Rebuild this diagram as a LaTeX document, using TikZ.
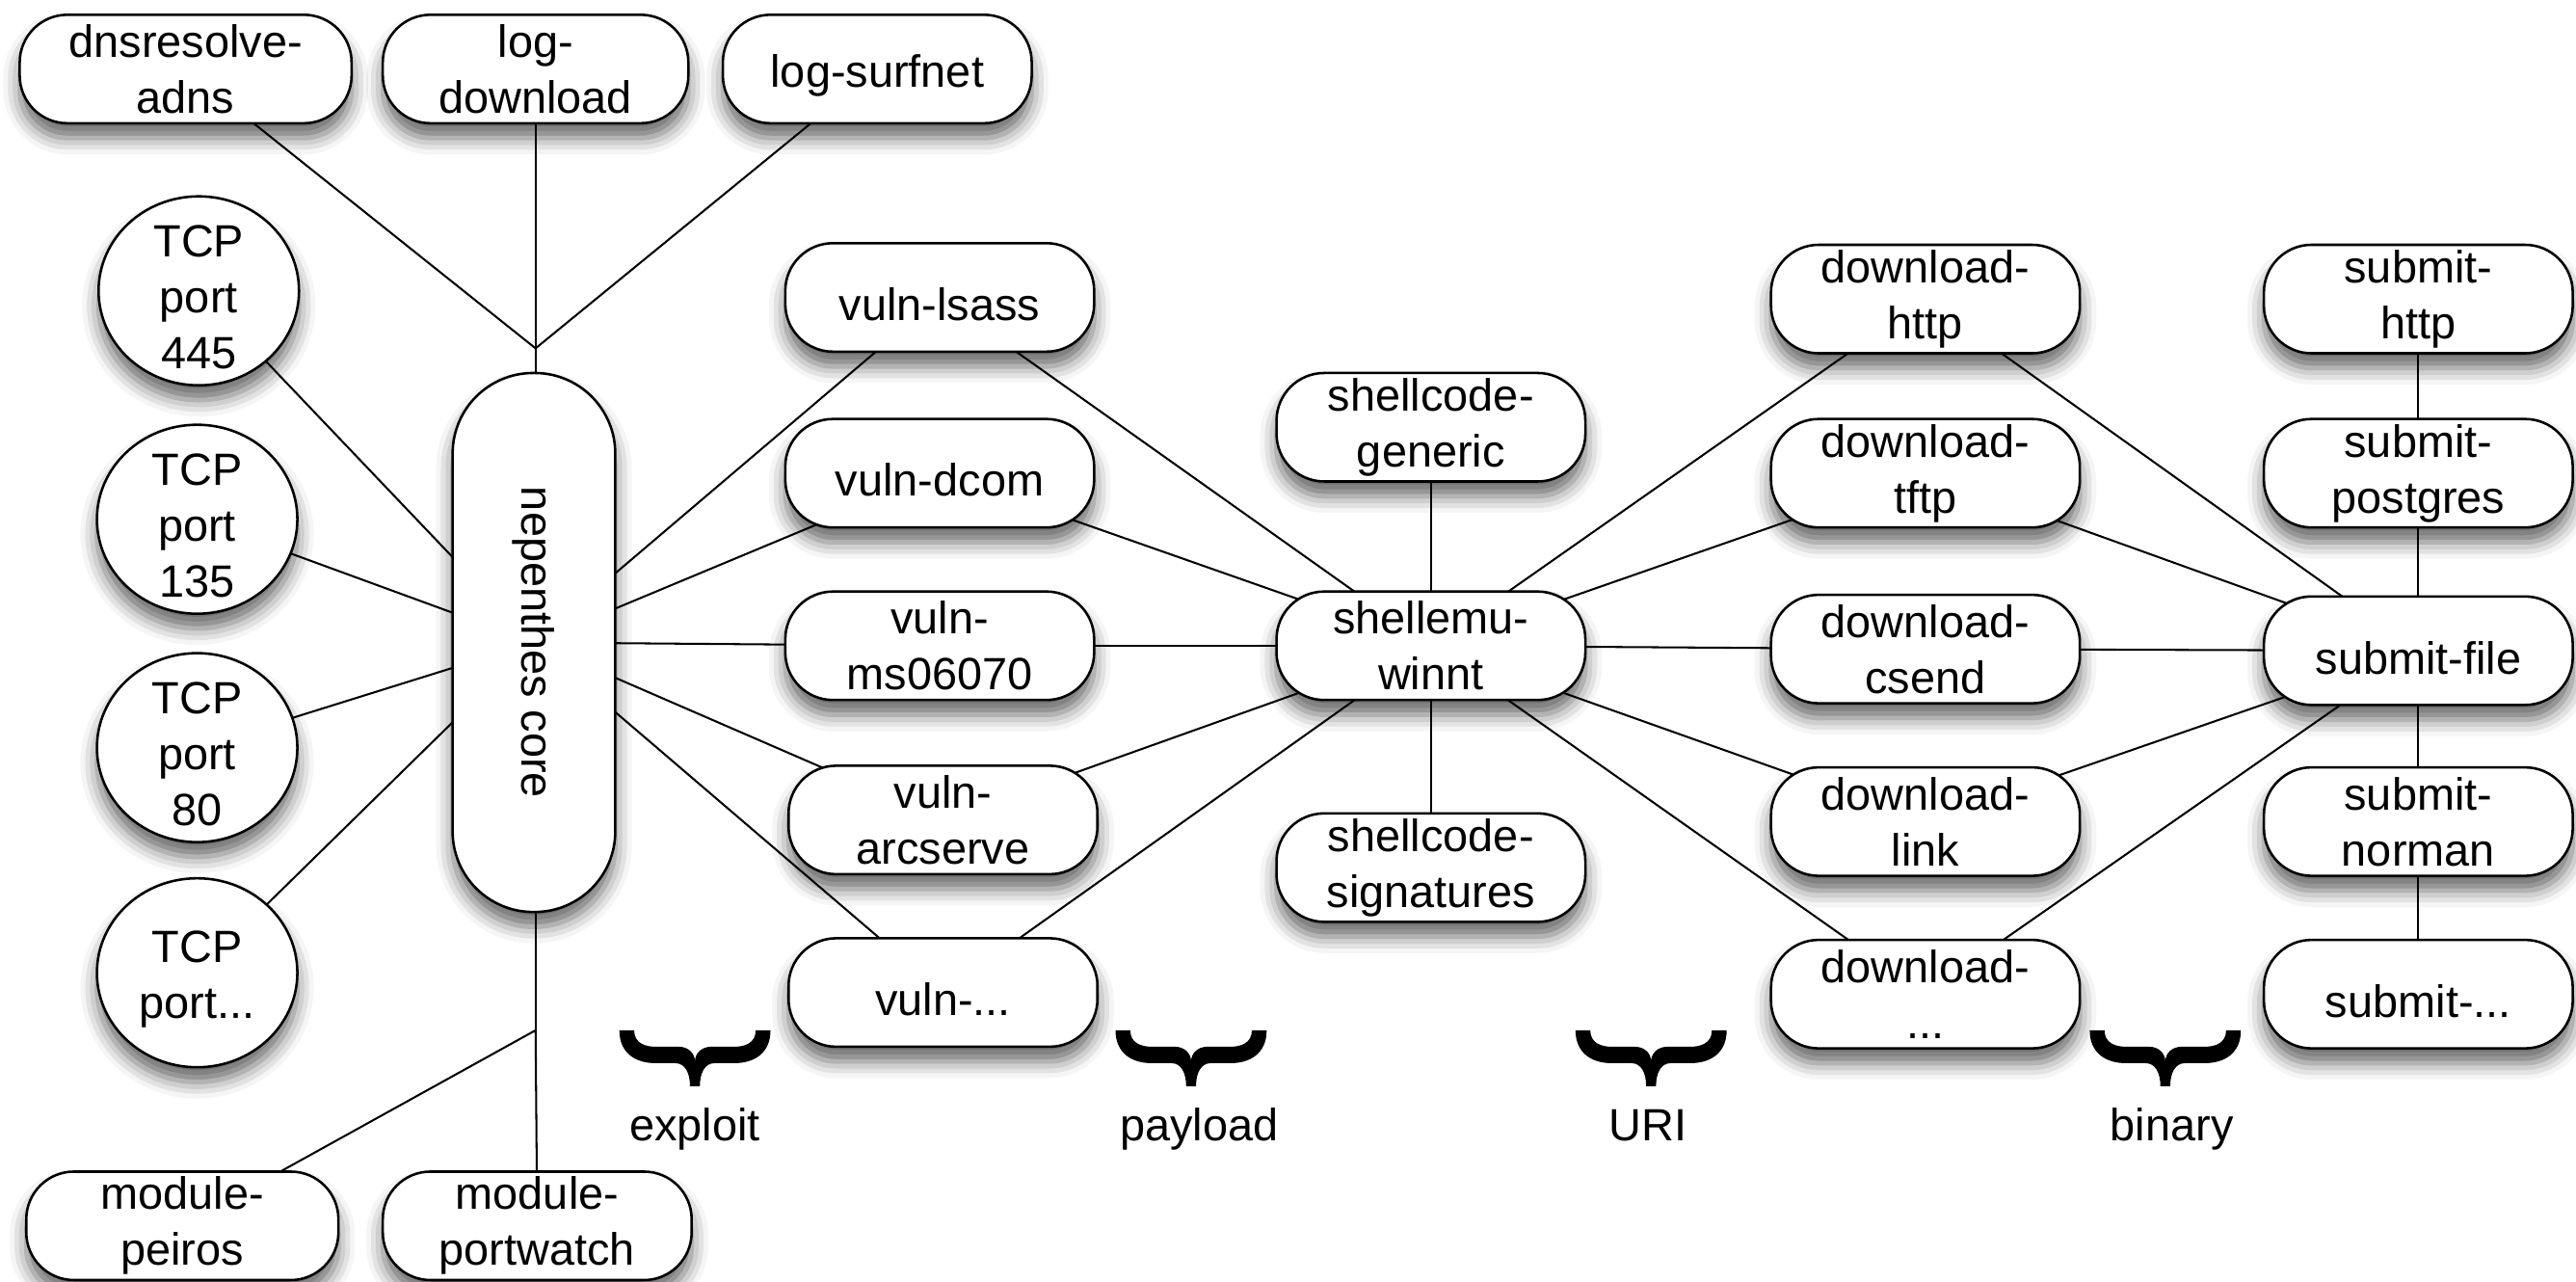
\documentclass[tikz,border=0pt]{standalone}
\usepackage{fontspec}
\setmainfont{Liberation Sans}
\usetikzlibrary{shapes.geometric,backgrounds,shadows.blur}
\begin{document}
\begin{tikzpicture}[x=0.5pt,y=-0.5pt,
  every node/.style={font=\fontsize{13.75}{17}\selectfont},
  shad/.style={blur shadow={shadow xshift=0pt,shadow yshift=-4.5pt,shadow blur radius=5pt,shadow opacity=60}},
  box/.style={draw, line width=0.75pt, fill=white, rounded corners=14.5pt,
    minimum width=94pt, minimum height=33pt, align=center, inner sep=0pt, shad,
    execute at begin node={\rule{0pt}{14.2pt}}},
  port/.style={draw, ellipse, line width=0.75pt, fill=white,
    minimum width=61pt, minimum height=57.5pt, inner sep=0pt, shad},
  portlbl/.style={align=center, inner sep=0pt, yshift=-2pt},
  link/.style={line width=0.6pt},
  grplabel/.style={anchor=base},
  gbrace/.pic={
    \fill[black] (-46,0) -- (-37,0)
      .. controls (-37,8) and (-30,10) .. (-24,10) -- (-10,10)
      .. controls (-4,10) and (0,14) .. (0,19)
      .. controls (0,14) and (4,10) .. (10,10) -- (24,10)
      .. controls (30,10) and (37,8) .. (37,0) -- (46,0)
      .. controls (46,14) and (36,20) .. (24,20) -- (12,20)
      .. controls (6,20) and (3,26) .. (3,34) -- (-3,34)
      .. controls (-3,26) and (-6,20) .. (-12,20) -- (-24,20)
      .. controls (-36,20) and (-46,14) .. (-46,0) -- cycle;
  }
]
\begin{scope}[on background layer]
\fill[white] (0,0) rectangle (1568,780);
\end{scope}
\useasboundingbox (0,0) rectangle (1568,780);
% tiny hidden shadow first (it sits under the submit-file node drawn later)
\path[shad, fill=white] (1470,392) rectangle (1474,396);

% top modules
\node[box, minimum width=101pt] (dns) at (113,42) {dnsresolve-\\adns};
\node[box, minimum width=93pt] (logd) at (326,42) {log-\\download};
\node[box] (logs) at (534,42) {log-surfnet};
\coordinate (jt) at (326,212);

% core
\node[draw, line width=0.75pt, fill=white, rounded corners=24.5pt, minimum width=164pt,
  minimum height=49.5pt, rotate=-90, inner sep=0pt, shad] (core) at (325,391) {nepenthes core};

% ports
\node[port, label={[portlbl]center:TCP\\port\\445}] (p445) at (121,177) {};
\node[port, label={[portlbl]center:TCP\\port\\135}] (p135) at (120,316) {};
\node[port, label={[portlbl]center:TCP\\port\\80}] (p80) at (120,455) {};
\node[port, label={[portlbl]center:TCP\\port...}] (pdots) at (120,592) {};

% bottom modules
\coordinate (jb) at (326,627);
\node[box, minimum width=95pt] (mp) at (111,746) {module-\\peiros};
\node[box] (mw) at (327,746) {module-\\portwatch};

% vulns
\node[box] (vl) at (572,181) {vuln-lsass};
\node[box] (vd) at (572,288) {vuln-dcom};
\node[box] (vm) at (572,393) {vuln-\\ms06070};
\node[box] (va) at (574,499) {vuln-\\arcserve};
\node[box] (vx) at (574,604) {vuln-...};

% shellcode
\node[box] (sg) at (871,260) {shellcode-\\generic};
\node[box] (se) at (871,393) {shellemu-\\winnt};
\node[box] (ss) at (871,528) {shellcode-\\signatures};

% downloads
\node[box] (dh) at (1172,182) {download-\\http};
\node[box] (dt) at (1172,288) {download-\\tftp};
\node[box] (dc) at (1172,395) {download-\\csend};
\node[box] (dli) at (1172,500) {download-\\link};
\node[box] (dx) at (1172,605) {download-\\...};

% submits
\node[box] (sh) at (1472,182) {submit-\\http};
\node[box] (sp) at (1472,288) {submit-\\postgres};
\node[box] (sf) at (1472,396) {submit-file};
\node[box] (sn) at (1472,500) {submit-\\norman};
\node[box] (sx) at (1472,605) {submit-...};

% connectors (behind the nodes, centre to centre)
\begin{scope}[on background layer]
\draw[link] (dns.center) -- (jt);
\draw[link] (logd.center) -- (jt);
\draw[link] (logs.center) -- (jt);
\draw[link] (jt) -- (326,391);
\foreach \p in {p445,p135,p80,pdots} \draw[link] (\p.center) -- (core.center);
\draw[link] (326,391) -- (jb);
\draw[link] (jb) -- (mp.center);
\draw[link] (jb) -- (mw.center);
\foreach \v in {vl,vd,vm,va,vx} {
  \draw[link] (core.center) -- (\v.center);
  \draw[link] (\v.center) -- (se.center);
}
\draw[link] (se.center) -- (sg.center);
\draw[link] (se.center) -- (ss.center);
\foreach \d in {dh,dt,dc,dli,dx} {
  \draw[link] (se.center) -- (\d.center);
  \draw[link] (\d.center) -- (sf.center);
}
\draw[link] (sh.center) -- (sp.center);
\draw[link] (sp.center) -- (sf.center);
\draw[link] (sf.center) -- (sn.center);
\draw[link] (sn.center) -- (sx.center);
\end{scope}

% group braces
\pic at (423,627) {gbrace};
\pic at (725,627) {gbrace};
\pic at (1005,627) {gbrace};
\pic at (1318,627) {gbrace};
\node[grplabel] (lexp) at (423,694) {exploit};
\node[grplabel] (lpay) at (730,694) {payload};
\node[grplabel] (luri) at (1003,694) {URI};
\node[grplabel] (lbin) at (1322,694) {binary};
\end{tikzpicture}
\end{document}
